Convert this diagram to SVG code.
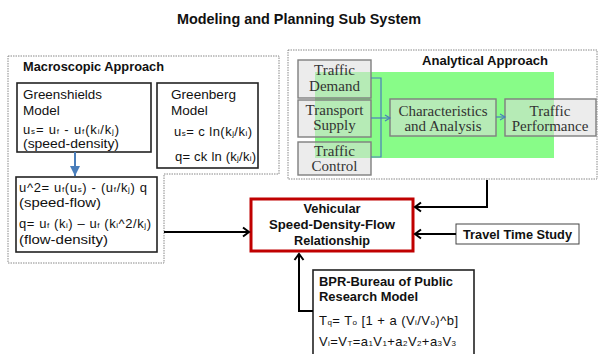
<svg xmlns="http://www.w3.org/2000/svg" width="599" height="354" viewBox="0 0 599 354">
<defs>
<style>
.t{font-family:"Liberation Sans",Arial,sans-serif;fill:#111}
.b{font-weight:bold}
.s{font-family:"Liberation Serif","Times New Roman",serif;font-size:15px;fill:#333;text-anchor:middle}
.dash{fill:none;stroke:#888;stroke-width:1;stroke-dasharray:1.5 1}
.box{fill:#fff;stroke:#222;stroke-width:1.6}
.gbox{fill:#dcdcdc;fill-opacity:0.55;stroke:#7f7f7f;stroke-width:1.4}
.blk{fill:none;stroke:#000;stroke-width:2}
.blu{fill:none;stroke:#4a7ebb;stroke-width:1.2}
</style>
<marker id="ah" markerUnits="userSpaceOnUse" markerWidth="12" markerHeight="12" refX="9" refY="6" orient="auto">
<path d="M3,1.5 L9,6 L3,10.5" fill="none" stroke="#000" stroke-width="2"/>
</marker>
<marker id="bh" markerUnits="userSpaceOnUse" markerWidth="8" markerHeight="8" refX="6" refY="4" orient="auto">
<path d="M1,1 L6,4 L1,7" fill="none" stroke="#4a7ebb" stroke-width="1.2"/>
</marker>
<marker id="bt" markerUnits="userSpaceOnUse" markerWidth="12" markerHeight="12" refX="10" refY="6" orient="auto">
<path d="M0,1 L10,6 L0,11 Z" fill="#4a7ebb"/>
</marker>
</defs>
<rect width="599" height="354" fill="#fff"/>
<text class="t b" x="177" y="24" font-size="14" textLength="244" lengthAdjust="spacingAndGlyphs">Modeling and Planning Sub System</text>

<g id="macroscopic">
<path class="dash" d="M8,56 H279 V174 H164 V263 H8 Z"/>
<text class="t b" x="23" y="71" font-size="12.5" textLength="141" lengthAdjust="spacingAndGlyphs">Macroscopic Approach</text>
</g>

<g id="greenshields">
<rect class="box" x="17" y="83" width="134" height="69"/>
<text class="t" x="23" y="99" font-size="13.5" textLength="79" lengthAdjust="spacingAndGlyphs">Greenshields</text>
<text class="t" x="23" y="115" font-size="13.5">Model</text>
<text class="t" x="23" y="134" font-size="13" textLength="96" lengthAdjust="spacing">u<tspan font-size="8">s</tspan>= u<tspan font-size="8">f</tspan> - u<tspan font-size="8">f</tspan>(k<tspan font-size="8">i</tspan>/k<tspan font-size="8">j</tspan>)</text>
<text class="t" x="23" y="148" font-size="13" textLength="96" lengthAdjust="spacingAndGlyphs">(speed-density)</text>
</g>

<g id="greenberg">
<rect class="box" x="157" y="83" width="101" height="85"/>
<text class="t" x="171" y="99" font-size="13.5" textLength="65" lengthAdjust="spacingAndGlyphs">Greenberg</text>
<text class="t" x="171" y="115" font-size="13.5">Model</text>
<text class="t" x="174" y="136" font-size="13" textLength="78" lengthAdjust="spacing">u<tspan font-size="8">s</tspan>= c ln(k<tspan font-size="8">j</tspan>/k<tspan font-size="8">i</tspan>)</text>
<text class="t" x="175" y="161" font-size="13" textLength="81" lengthAdjust="spacing">q= ck ln (k<tspan font-size="8">j</tspan>/k<tspan font-size="8">i</tspan>)</text>
</g>

<g id="speedflow">
<rect class="box" x="16" y="177" width="141" height="75"/>
<text class="t" x="19" y="192" font-size="13" textLength="128" lengthAdjust="spacing">u^2= u<tspan font-size="8">f</tspan>(u<tspan font-size="8">s</tspan>) - (u<tspan font-size="8">f</tspan>/k<tspan font-size="8">j</tspan>) q</text>
<text class="t" x="19" y="207" font-size="13" textLength="82" lengthAdjust="spacingAndGlyphs">(speed-flow)</text>
<text class="t" x="19" y="228" font-size="13" textLength="132" lengthAdjust="spacing">q= u<tspan font-size="8">f</tspan> (k<tspan font-size="8">i</tspan>) – u<tspan font-size="8">f</tspan> (k<tspan font-size="8">i</tspan>^2/k<tspan font-size="8">j</tspan>)</text>
<text class="t" x="19" y="244" font-size="13" textLength="89" lengthAdjust="spacingAndGlyphs">(flow-density)</text>
</g>

<g id="analytical">
<rect class="dash" x="288" y="50" width="309" height="129"/>
<rect x="315" y="72" width="239" height="86" fill="#88fc88"/>
<text class="t b" x="422" y="65" font-size="12.5" textLength="126" lengthAdjust="spacingAndGlyphs">Analytical Approach</text>
</g>

<g id="demand">
<rect class="gbox" x="298" y="60" width="73" height="38"/>
<text class="s" x="334.5" y="75">Traffic</text>
<text class="s" x="334.5" y="91">Demand</text>
</g>
<g id="supply">
<rect class="gbox" x="298" y="100" width="73" height="37"/>
<text class="s" x="334.5" y="115">Transport</text>
<text class="s" x="334.5" y="130">Supply</text>
</g>
<g id="control">
<rect class="gbox" x="298" y="142" width="73" height="33"/>
<text class="s" x="334.5" y="156" font-size="14.5">Traffic</text>
<text class="s" x="334.5" y="171" font-size="14.5">Control</text>
</g>
<g id="characteristics">
<rect class="gbox" x="390" y="99" width="106" height="37"/>
<text class="s" x="443" y="116">Characteristics</text>
<text class="s" x="443" y="131">and Analysis</text>
</g>
<g id="performance">
<rect class="gbox" x="505" y="99" width="91" height="37"/>
<text class="s" x="550" y="116">Traffic</text>
<text class="s" x="550" y="131">Performance</text>
</g>

<g id="vsdf">
<rect x="251" y="199" width="162" height="52" fill="#fff" stroke="#c00000" stroke-width="3"/>
<text class="t b" x="332" y="213" font-size="12.5" text-anchor="middle" textLength="57" lengthAdjust="spacingAndGlyphs">Vehicular</text>
<text class="t b" x="332" y="229" font-size="12.5" text-anchor="middle" textLength="126" lengthAdjust="spacingAndGlyphs">Speed-Density-Flow</text>
<text class="t b" x="332" y="245" font-size="12.5" text-anchor="middle" textLength="76" lengthAdjust="spacingAndGlyphs">Relationship</text>
</g>

<g id="travel">
<rect x="456" y="224" width="123" height="20" fill="#fff" stroke="#444" stroke-width="1"/>
<text class="t b" x="463" y="238.5" font-size="12.5" textLength="109" lengthAdjust="spacingAndGlyphs">Travel Time Study</text>
</g>

<g id="bpr">
<rect class="box" x="313" y="270" width="161" height="90"/>
<text class="t b" x="319" y="286" font-size="13" textLength="134" lengthAdjust="spacingAndGlyphs">BPR-Bureau of Public</text>
<text class="t b" x="319" y="301" font-size="13" textLength="99" lengthAdjust="spacingAndGlyphs">Research Model</text>
<text class="t" x="319" y="325" font-size="13" textLength="139" lengthAdjust="spacing">T<tspan font-size="8">q</tspan>= T<tspan font-size="8">o</tspan> [1 + a (V<tspan font-size="8">i</tspan>/V<tspan font-size="8">o</tspan>)^b]</text>
<text class="t" x="319" y="346" font-size="13" textLength="137" lengthAdjust="spacing">V<tspan font-size="8">i</tspan>=V<tspan font-size="8">T</tspan>=a<tspan font-size="8">1</tspan>V<tspan font-size="8">1</tspan>+a<tspan font-size="8">2</tspan>V<tspan font-size="8">2</tspan>+a<tspan font-size="8">3</tspan>V<tspan font-size="8">3</tspan></text>
</g>

<g id="connectors">
<line x1="75" y1="152" x2="75" y2="176" stroke="#4a7ebb" stroke-width="2" marker-end="url(#bt)"/>
<path class="blu" d="M371,78 H381 V157 H371"/>
<line class="blu" x1="371" y1="118" x2="390" y2="118" marker-end="url(#bh)"/>
<line class="blu" x1="496" y1="117" x2="505" y2="117" marker-end="url(#bh)"/>
<line class="blk" x1="164" y1="232" x2="249" y2="232" marker-end="url(#ah)"/>
<path class="blk" d="M487,180 V207 H415" marker-end="url(#ah)"/>
<line class="blk" x1="456" y1="234" x2="415" y2="234" marker-end="url(#ah)"/>
<path class="blk" d="M313,311 H299 V254" marker-end="url(#ah)"/>
</g>
</svg>
